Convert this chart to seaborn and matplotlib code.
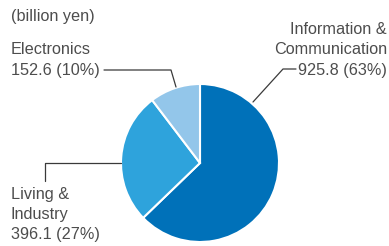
import matplotlib
matplotlib.use("Agg")
import matplotlib.pyplot as plt
import seaborn as sns

# ---------------------------------------------------------------------------
# Data
# ---------------------------------------------------------------------------
segments = [["Information &", "Communication"], ["Living &", "Industry"], ["Electronics"]]
values = [925.8, 396.1, 152.6]
shares = [63, 27, 10]
unit_label = "(billion yen)"

colors = ["#0071b9", "#2ea3dc", "#93c6ea"]
text_color = "#4d4d4d"
line_color = "#3a3a3a"

sns.set_theme(style="white")
plt.rcParams["font.family"] = ["Liberation Sans", "DejaVu Sans"]

W, H = 389, 246
fig = plt.figure(figsize=(W / 100, H / 100), dpi=100)
ax = fig.add_axes([0, 0, 1, 1])

# pixel-like coordinates, y measured from the bottom
cx, cy, r = 200, H - 163, 79
ax.pie(values, colors=colors, startangle=90, counterclock=False,
       center=(cx, cy), radius=r,
       wedgeprops=dict(edgecolor="white", linewidth=1.5))
ax.set_xlim(0, W)
ax.set_ylim(0, H)
ax.set_aspect("auto")
ax.axis("off")

fs = 11.7


def put_lines(x, ys, lines, ha):
    for y, s in zip(ys, lines):
        ax.text(x, H - y, s, fontsize=fs, color=text_color, ha=ha, va="center")


put_lines(11, [17], [unit_label], "left")

# Information & Communication (right)
put_lines(387, [30, 50, 70],
          segments[0] + [f"{values[0]:.1f} ({shares[0]}%)"], "right")
ax.plot([296, 283, 253], [H - 69, H - 69, H - 102], color=line_color, lw=0.9)

# Electronics (left top)
put_lines(11, [49, 70], segments[2] + [f"{values[2]:.1f} ({shares[2]}%)"], "left")
ax.plot([104, 171, 176], [H - 70, H - 70, H - 87], color=line_color, lw=0.9)

# Living & Industry (left bottom)
put_lines(11, [195, 215, 235],
          segments[1] + [f"{values[1]:.1f} ({shares[1]}%)"], "left")
ax.plot([45, 45, 121], [H - 181, H - 163, H - 163], color=line_color, lw=0.9)

fig.savefig("out.png", dpi=100)
